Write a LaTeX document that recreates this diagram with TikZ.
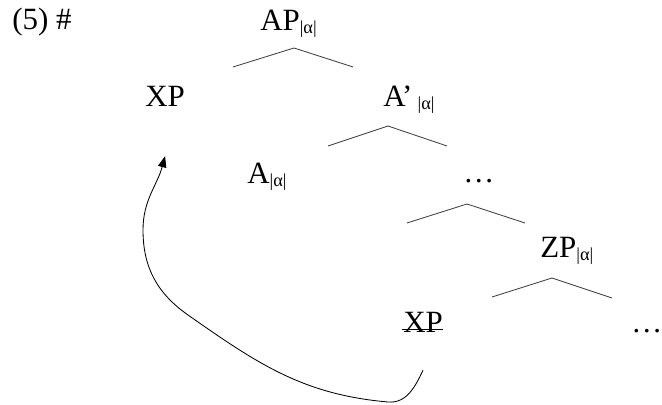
\documentclass[tikz,border=0pt]{standalone}
\usepackage{fontspec}
\setmainfont{Liberation Serif}
\usetikzlibrary{arrows.meta}
\tikzset{
  cat/.style={anchor=base west, inner sep=0pt, font=\fontsize{22}{26}\selectfont},
  branch/.style={line width=0.6pt, black!75},
  move/.style={line width=0.6pt, -{Triangle[length=8pt,width=6pt]}}
}
\newcommand{\al}{\raisebox{-2pt}{\fontsize{13}{14}\selectfont|α|}}

\begin{document}
\begin{tikzpicture}[x=0.025cm,y=0.025cm]
  \useasboundingbox (0,0) rectangle (662,405);
  % Example number
  \node[cat] (ex) at (12,375) {(5) \#};
  % Tree nodes
  \node[cat] (ap) at (260,374) {AP\al};
  \node[cat] (xp) at (145,298) {XP};
  \node[cat] (abar) at (383,298) {A’\,\al};
  \node[cat] (a) at (247,221) {A\al};
  \node[cat] (dots) at (463,222) {…};
  \node[cat] (zp) at (540,147) {ZP\al};
  \node[cat] (trace) at (403,72) {XP};
  \node[cat] (rdots) at (631,72) {…};
  % Branches
  \draw[branch] (233,338) -- (294,357) -- (353,338);
  \draw[branch] (328,259) -- (388,279) -- (447,259);
  \draw[branch] (407,182) -- (467,201) -- (525,182);
  \draw[branch] (492,108) -- (552,127) -- (612,107);
  % Trace struck out
  \draw[line width=0.6pt] ([yshift=0.1cm,xshift=-1pt]trace.base west) -- ([yshift=0.1cm]trace.base east);
  % Movement arrow
  \draw[move] ([yshift=-0.92cm]trace.south) to[out=245,in=-5] (388,3) to[out=175,in=-35] (188,90) to[out=145,in=-90] (143,175) to[out=90,in=-105] ([yshift=-1.22cm]xp.south);
\end{tikzpicture}
\end{document}
